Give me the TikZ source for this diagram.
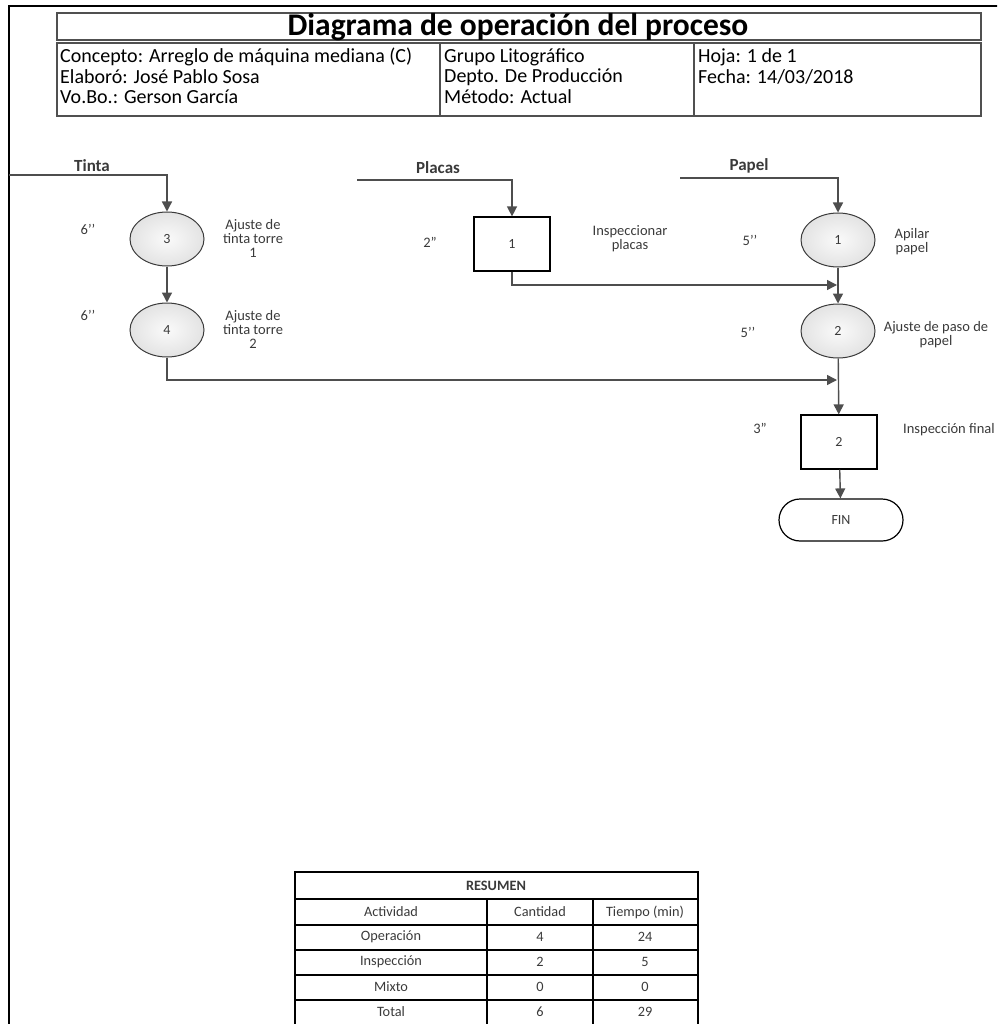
\documentclass[tikz,border=0pt]{standalone}
\usepackage{fontspec}
\setmainfont{Carlito}
\usetikzlibrary{arrows.meta,shapes.geometric,shapes.misc}
\definecolor{ink}{HTML}{3A3A3A}
\definecolor{flow}{HTML}{4E4E4E}
\definecolor{boxline}{HTML}{505050}
\begin{document}
\begin{tikzpicture}[x=1pt,y=-1pt,
  small/.style={font=\fontsize{14.5}{14}\selectfont, text=ink, align=center, inner sep=0pt},
  lbl/.style={font=\bfseries\fontsize{17}{17}\selectfont, text=ink, inner sep=0pt},
  head/.style={font=\fontsize{20}{20}\selectfont, text=black, anchor=west, inner sep=0pt},
  cell/.style={font=\fontsize{14.3}{14}\selectfont, text=ink, inner sep=0pt},
  flowline/.style={draw=flow, line width=1.4pt},
  arr/.style={flowline, -{Triangle[width=10pt,length=10pt]}},
  opnode/.style={ellipse, draw=ink, line width=1pt, minimum width=74pt, minimum height=54pt, inner sep=0pt,
    inner color=gray!4, outer color=gray!22, font=\fontsize{14}{14}\selectfont, text=ink},
  inspnode/.style={rectangle, draw=black, line width=1.2pt, fill=white, minimum width=76pt, minimum height=54pt,
    inner sep=0pt, font=\fontsize{14}{14}\selectfont, text=ink},
  endnode/.style={rounded rectangle, draw=black, line width=1.2pt, fill=white, minimum width=124pt, minimum height=42pt,
    inner sep=0pt, font=\fontsize{14}{14}\selectfont, text=ink},
  grid/.style={draw=black, line width=1.8pt}
]
\useasboundingbox (0,0) rectangle (997,1024);
\clip (0,0) rectangle (997,1024);

% page frame
\draw[line width=2.5pt, black] (9,1040) -- (9,6) -- (1010,6);

% header block
\draw[draw=boxline, line width=2pt] (57,13) rectangle (981,40);
\node[font=\bfseries\fontsize{31.5}{31}\selectfont, inner sep=0pt] (title) at (518,27) {Diagrama de operación del proceso};
\draw[draw=boxline, line width=2pt] (57,43) rectangle (981,116);
\draw[draw=boxline, line width=2pt] (440,43) -- (440,116);
\draw[draw=boxline, line width=2pt] (694,43) -- (694,116);
\node[head] (h11) at (60,57) {Concepto: Arreglo de máquina mediana (C)};
\node[head] (h12) at (60,77) {Elaboró: José Pablo Sosa};
\node[head] (h13) at (60,97) {Vo.Bo.: Gerson García};
\node[head] (h21) at (444,57) {Grupo Litográfico};
\node[head] (h22) at (444,77) {Depto. De Producción};
\node[head] (h23) at (444,97) {Método: Actual};
\node[head] (h31) at (698,57) {Hoja: 1 de 1};
\node[head] (h32) at (698,77) {Fecha: 14/03/2018};

% ---- Tinta line
\node[lbl] (tinta) at (92,166) {Tinta};
\coordinate (tintaS) at (9,175);
\node[opnode] (e3) at (167,239) {3};
\node[opnode] (e4) at (167,330) {4};
\node[small] (t3) at (88,229) {6’’};
\node[small] (t4) at (88,315) {6’’};
\node[small] (d3) at (253,238) {Ajuste de\\tinta torre\\1};
\node[small] (d4) at (253,329) {Ajuste de\\tinta torre\\2};

% ---- Placas line
\node[lbl] (placas) at (438,168) {Placas};
\coordinate (placasS) at (357,180);
\node[inspnode] (b1) at (512,244) {1};
\node[small] (tb1) at (430,242) {2”};
\node[small] (db1) at (630,239) {Inspeccionar\\placas};

% ---- Papel line
\node[lbl] (papel) at (749,166) {Papel};
\coordinate (papelS) at (680,178);
\node[opnode] (e1) at (838,240) {1};
\node[opnode] (e2) at (838,331) {2};
\node[inspnode] (b2) at (839,442) {2};
\node[endnode] (fin) at (841,520) {FIN};
\node[small] (te1) at (750,240) {5’’};
\node[small] (te2) at (748,332) {5’’};
\node[small] (tb2) at (760,428) {3”};
\node[small] (de1) at (912,242) {Apilar\\papel};
\node[small] (de2) at (936,335) {Ajuste de paso de\\papel};
\node[small, anchor=west] (db2) at (903,430) {Inspección final};

% junction points on the main column
\coordinate (j1) at (838,285);
\coordinate (j2) at (838,380);

% connectors
\draw[arr] (tintaS) -| (e3.north);
\draw[arr] (e3) -- (e4);
\draw[arr] (placasS) -| (b1.north);
\draw[arr] (papelS) -| (e1.north);
\draw[arr] (e1) -- (e2);
\draw[arr] (e2) -- (b2);
\draw[arr] (b2) -- (fin);
\draw[arr] (b1.south) |- ([xshift=-1pt]j1);
\draw[arr] (e4.south) |- ([xshift=-1pt]j2);

% ---- summary table
\draw[grid] (295,872) rectangle (698,1040);
\foreach \yy in {899,925,950,975,1000} \draw[grid] (295,\yy) -- (698,\yy);
\draw[grid] (487,899) -- (487,1040);
\draw[grid] (593,899) -- (593,1040);
\node[cell, font=\bfseries\fontsize{14.3}{14}\selectfont] (res) at (496,886) {RESUMEN};
\node[cell] (c11) at (391,912) {Actividad};
\node[cell] (c12) at (540,912) {Cantidad};
\node[cell] (c13) at (645,912) {Tiempo (min)};
\node[cell] (c21) at (391,937) {Operación};
\node[cell] (c22) at (540,937) {4};
\node[cell] (c23) at (645,937) {24};
\node[cell] (c31) at (391,962) {Inspección};
\node[cell] (c32) at (540,962) {2};
\node[cell] (c33) at (645,962) {5};
\node[cell] (c41) at (391,987) {Mixto};
\node[cell] (c42) at (540,987) {0};
\node[cell] (c43) at (645,987) {0};
\node[cell] (c51) at (391,1012) {Total};
\node[cell] (c52) at (540,1012) {6};
\node[cell] (c53) at (645,1012) {29};
\end{tikzpicture}
\end{document}
